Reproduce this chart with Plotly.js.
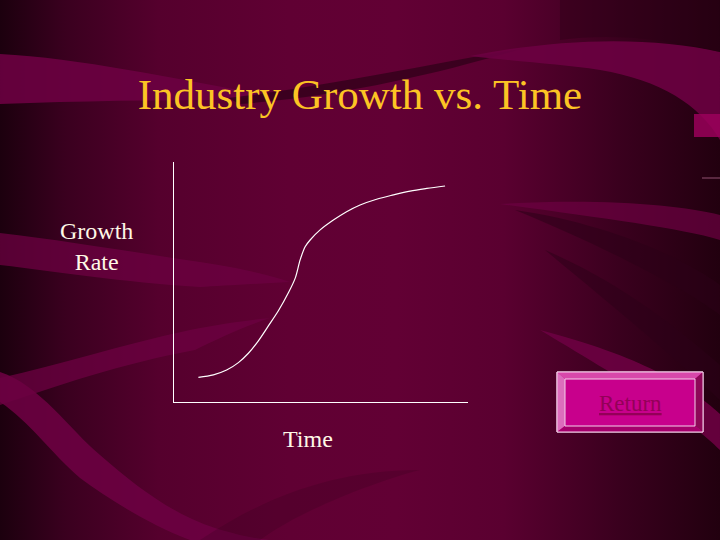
<!DOCTYPE html>
<html>
<head>
<meta charset="utf-8">
<script src="https://cdn.plot.ly/plotly-3.0.1.min.js"></script>
<style>
html,body{margin:0;padding:0;}
body{width:720px;height:540px;overflow:hidden;
background:linear-gradient(to right,#1c000e 0%,#3a001f 9%,#55002d 22%,#600033 40%,#620034 55%,#5a0030 70%,#3a001e 86%,#22000f 100%);}
#chart{width:720px;height:540px;}
</style>
</head>
<body>
<div id="chart"></div>
<script>
// ---- data ----
const chartTitle = "Industry Growth vs. Time";
const xLabel = "Time";
const yLabel = "Growth<br>Rate";
const buttonText = "Return";
const timeVals   = [0.83,1.34,1.79,2.19,2.53,2.87,3.21,3.55,3.89,4.12,4.29,4.46,4.63,4.97,5.42,5.87,6.33,6.89,7.46,8.03,8.60,9.22];
const growthVals = [1.03,1.13,1.33,1.64,2.03,2.55,3.17,3.80,4.55,5.15,5.92,6.47,6.75,7.17,7.58,7.93,8.21,8.45,8.63,8.79,8.90,9.00];

// ---- layout geometry (pixels) ----
const L = 174, R = 468, T = 162, B = 402, W = 720, H = 540;
const px = x => (x - L) / (R - L);
const py = y => (B - y) / (B - T);
function pathFrom(arr){
  let out = [], isX = true;
  for (const t of arr){
    if (typeof t === 'string'){ out.push(t); isX = true; }
    else { out.push((isX ? px(t) : py(t)).toFixed(4)); isX = !isX; }
  }
  return out.join(' ').replace(/(-?\d+\.\d+) (-?\d+\.\d+)/g, '$1,$2');
}
function band(arr, color, op){
  return {type:'path', xref:'paper', yref:'paper', layer:'below', path:pathFrom(arr),
          fillcolor:color, opacity:op===undefined?1:op, line:{width:0}};
}
function rectPx(x0,y0,x1,y1,fill,lc,lw){
  return {type:'rect', xref:'paper', yref:'paper', layer:'above',
          x0:px(x0), x1:px(x1), y0:py(y1), y1:py(y0),
          fillcolor:fill, line:{color:lc||'rgba(0,0,0,0)', width:lw||0}};
}
const lightBand = '#6c0041', darkBand = '#2c0017';
const shapes = [
  band(['M',0,54,'C',80,58,180,80,262,94,'C',250,97,240,99,230,100,'C',160,100,80,101,0,104,'Z'], lightBand, 0.9),
  band(['M',228,98,'C',330,86,430,64,525,48,'C',450,70,350,96,240,104,'Z'], darkBand, 0.7),
  band(['M',470,56,'C',560,38,650,36,720,52,'L',720,140,'C',700,105,660,80,600,70,'C',560,64,520,62,470,56,'Z'], lightBand, 0.9),
  band(['M',560,0,'L',720,0,'L',720,52,'C',660,36,600,34,560,40,'Z'], darkBand, 0.45),
  band(['M',0,233,'C',60,240,120,250,200,262,'C',240,268,270,275,290,282,'C',250,284,220,286,200,287,'C',120,282,60,272,0,265,'Z'], lightBand, 0.75),
  band(['M',0,378,'C',60,365,120,345,190,330,'C',220,324,250,320,270,318,'C',240,328,215,340,195,350,'C',120,364,60,385,0,405,'Z'], lightBand, 0.75),
  band(['M',0,372,'C',40,385,70,430,100,455,'C',140,490,175,515,215,528,'C',235,534,250,538,270,540,'L',190,540,'C',150,525,110,500,80,478,'C',50,452,30,422,0,402,'Z'], lightBand, 0.9),
  band(['M',500,204,'C',600,198,680,205,720,215,'L',720,240,'C',680,228,600,218,500,204,'Z'], lightBand, 0.7),
  band(['M',515,210,'C',600,222,680,255,720,285,'L',720,315,'C',680,285,600,245,515,210,'Z'], darkBand, 0.55),
  band(['M',545,250,'C',620,282,680,330,720,365,'L',720,400,'C',680,362,620,312,545,250,'Z'], darkBand, 0.5),
  band(['M',540,330,'C',640,356,690,386,720,414,'L',720,450,'C',690,420,640,390,540,330,'Z'], lightBand, 0.9),
  band(['M',200,540,'C',260,500,330,470,420,470,'C',380,480,300,510,260,540,'Z'], darkBand, 0.2),
  {type:'rect', xref:'paper', yref:'paper', layer:'below', x0:px(694), x1:px(720), y0:py(137), y1:py(114),
   fillcolor:'#9a005a', opacity:0.85, line:{width:0}},
  {type:'line', xref:'paper', yref:'paper', layer:'below', x0:px(702), x1:px(720), y0:py(178), y1:py(178),
   line:{color:'#905070', width:1}},
  // Return button
  rectPx(557,372,703,432,'#c8008c','#f4d0ea',1),
  band(['M',557,372,'L',703,372,'L',695,379,'L',565,379,'Z'], '#d848aa'),
  band(['M',557,372,'L',565,379,'L',565,426,'L',557,432,'Z'], '#dc6cbc'),
  band(['M',703,372,'L',703,432,'L',695,426,'L',695,379,'Z'], '#8e0858'),
  band(['M',557,432,'L',565,426,'L',695,426,'L',703,432,'Z'], '#a6006c'),
  rectPx(565,379,695,426,'#c8008c','#f4d0ea',1),
  rectPx(557,372,703,432,'rgba(0,0,0,0)','#f4d0ea',1)
];
shapes.slice(-7).forEach(s => s.layer = 'above');

const serif = "Liberation Serif, serif";
const trace = {x: timeVals, y: growthVals, type:'scatter', mode:'lines',
  line:{color:'#ffffff', width:1.2, shape:'spline', smoothing:0.9}, hoverinfo:'skip'};

const layout = {
  width: W, height: H,
  font:{family:serif},
  paper_bgcolor:'rgba(0,0,0,0)', plot_bgcolor:'rgba(0,0,0,0)',
  margin:{l:L, r:W-R, t:T, b:H-B, pad:0},
  showlegend:false,
  title:{text:chartTitle, font:{family:serif, size:43, color:'#fcc424'},
         x:0.5, xref:'container', y:1-94/H, yref:'container', yanchor:'middle', xanchor:'center'},
  xaxis:{range:[0,10], showline:true, linecolor:'#ffffff', linewidth:1, showgrid:false,
         zeroline:false, showticklabels:false, ticks:'', fixedrange:true},
  yaxis:{range:[0,10], showline:true, linecolor:'#ffffff', linewidth:1, showgrid:false,
         zeroline:false, showticklabels:false, ticks:'', fixedrange:true},
  shapes: shapes,
  annotations:[
    {text:yLabel, xref:'paper', yref:'paper', x:px(96), y:py(246), xanchor:'center', yanchor:'middle',
     showarrow:false, align:'center', font:{family:serif, size:24, color:'#fff8e6'}},
    {text:xLabel, xref:'paper', yref:'paper', x:px(308), y:py(439), xanchor:'center', yanchor:'middle',
     showarrow:false, font:{family:serif, size:24, color:'#fff8e6'}},
    {text:'<span style="text-decoration:underline">'+buttonText+'</span>', xref:'paper', yref:'paper',
     x:px(630), y:py(403), xanchor:'center', yanchor:'middle',
     showarrow:false, font:{family:serif, size:23, color:'#940058'}}
  ]
};
Plotly.newPlot('chart', [trace], layout, {staticPlot:true, displayModeBar:false});
</script>
</body>
</html>
